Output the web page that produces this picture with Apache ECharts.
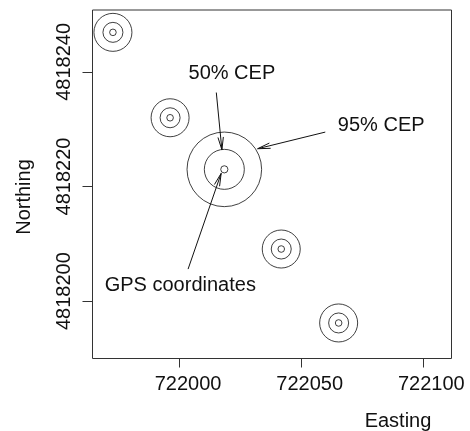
<!DOCTYPE html>
<html>
<head>
<meta charset="utf-8">
<script src="https://cdn.jsdelivr.net/npm/echarts@6/dist/echarts.min.js"></script>
<style>
html,body{margin:0;padding:0;background:#fff;}
#chart{width:470px;height:431px;}
</style>
</head>
<body>
<div id="chart"></div>
<script>
// ---- data ----
const eastings  = [721972.6, 721996.1, 722018.4, 722041.8, 722065.4];
const northings = [4818246.9, 4818232.0, 4818223.0, 4818209.1, 4818196.2];
const xTicks = [722000, 722050, 722100];
const yTicks = [4818200, 4818220, 4818240];
const annotationTexts = ['50% CEP', '95% CEP', 'GPS coordinates'];
const annotationEast  = [722021.5, 722082.9, 722000.3];
const annotationNorth = [4818239.7, 4818230.7, 4818202.7];
// arrows: start (east, north) -> end (east, north)
const arrowStartEast  = [722015.1, 722059.9, 722003.5];
const arrowStartNorth = [4818236.4, 4818229.5, 4818205.6];
const arrowEndEast    = [722017.4, 722032.1, 722017.1];
const arrowEndNorth   = [4818226.4, 4818226.6, 4818222.3];
const detailedIndex = 2;

const FONT = 'Liberation Sans, Arial, Helvetica, sans-serif';
const INK = '#111';

const points = eastings.map((e, i) => [e, northings[i]]);
const arrows = arrowStartEast.map((e, i) => [e, arrowStartNorth[i], arrowEndEast[i], arrowEndNorth[i]]);
const labels = annotationTexts.map((t, i) => [annotationEast[i], annotationNorth[i], t]);

function ringSeries(name, sizeSmall, sizeBig) {
  return {
    name: name,
    type: 'scatter',
    data: points,
    symbol: 'circle',
    symbolSize: (v, p) => p.dataIndex === detailedIndex ? sizeBig : sizeSmall,
    itemStyle: { color: 'rgba(0,0,0,0)', borderColor: INK, borderWidth: 1 },
    emphasis: { disabled: true },
    silent: true,
    z: 3
  };
}

const chart = echarts.init(document.getElementById('chart'), null, { renderer: 'canvas' });
chart.setOption({
  animation: false,
  backgroundColor: '#fff',
  grid: {
    left: 92.5, right: 18.5, top: 10, bottom: 72.5,
    show: true, borderColor: '#333', borderWidth: 1, backgroundColor: 'transparent'
  },
  xAxis: {
    type: 'value',
    min: 721964.2, max: 722111.8,
    axisLine: { show: false },
    splitLine: { show: false },
    axisTick: { show: true, customValues: xTicks, length: 9, lineStyle: { color: '#333' } },
    axisLabel: {
      customValues: xTicks, margin: 16, fontSize: 20, fontFamily: FONT, color: INK,
      padding: [0, 0, 0, 17], formatter: v => String(v)
    }
  },
  yAxis: {
    type: 'value',
    min: 4818190, max: 4818250.8,
    axisLine: { show: false },
    splitLine: { show: false },
    axisTick: { show: true, customValues: yTicks, length: 10, lineStyle: { color: '#333' } },
    axisLabel: {
      customValues: yTicks, rotate: 90, margin: 18, fontSize: 20, fontFamily: FONT, color: INK,
      padding: [0, 0, 0, 20], formatter: v => String(v)
    }
  },
  graphic: [
    { type: 'text', x: 24.5, y: 197, rotation: Math.PI / 2,
      style: { text: 'Northing', font: '20px ' + FONT, fill: INK, align: 'center', verticalAlign: 'middle' } },
    { type: 'text', x: 398, y: 421,
      style: { text: 'Easting', font: '20px ' + FONT, fill: INK, align: 'center', verticalAlign: 'middle' } }
  ],
  series: [
    ringSeries('95% CEP', 38, 74.6),
    ringSeries('50% CEP', 20, 40),
    ringSeries('GPS coordinates', 6.6, 7.2),
    {
      type: 'custom',
      data: arrows,
      encode: { x: [0, 2], y: [1, 3] },
      silent: true,
      z: 4,
      renderItem: function (params, api) {
        const s = api.coord([api.value(0), api.value(1)]);
        const e = api.coord([api.value(2), api.value(3)]);
        const ang = Math.atan2(e[1] - s[1], e[0] - s[0]);
        const L = 13, A = 12 * Math.PI / 180;
        const p1 = [e[0] - L * Math.cos(ang - A), e[1] - L * Math.sin(ang - A)];
        const p2 = [e[0] - L * Math.cos(ang + A), e[1] - L * Math.sin(ang + A)];
        return {
          type: 'group',
          children: [
            { type: 'line', shape: { x1: s[0], y1: s[1], x2: e[0], y2: e[1] },
              style: { stroke: INK, lineWidth: 1 } },
            { type: 'polyline', shape: { points: [p1, e, p2] },
              style: { stroke: INK, lineWidth: 1, fill: null } }
          ]
        };
      }
    },
    {
      type: 'custom',
      data: labels,
      encode: { x: 0, y: 1 },
      silent: true,
      z: 5,
      renderItem: function (params, api) {
        const p = api.coord([api.value(0), api.value(1)]);
        return {
          type: 'text',
          x: p[0], y: p[1],
          style: { text: labels[params.dataIndex][2], font: '20px ' + FONT, fill: INK,
                   align: 'center', verticalAlign: 'middle' }
        };
      }
    }
  ]
});
</script>
</body>
</html>
